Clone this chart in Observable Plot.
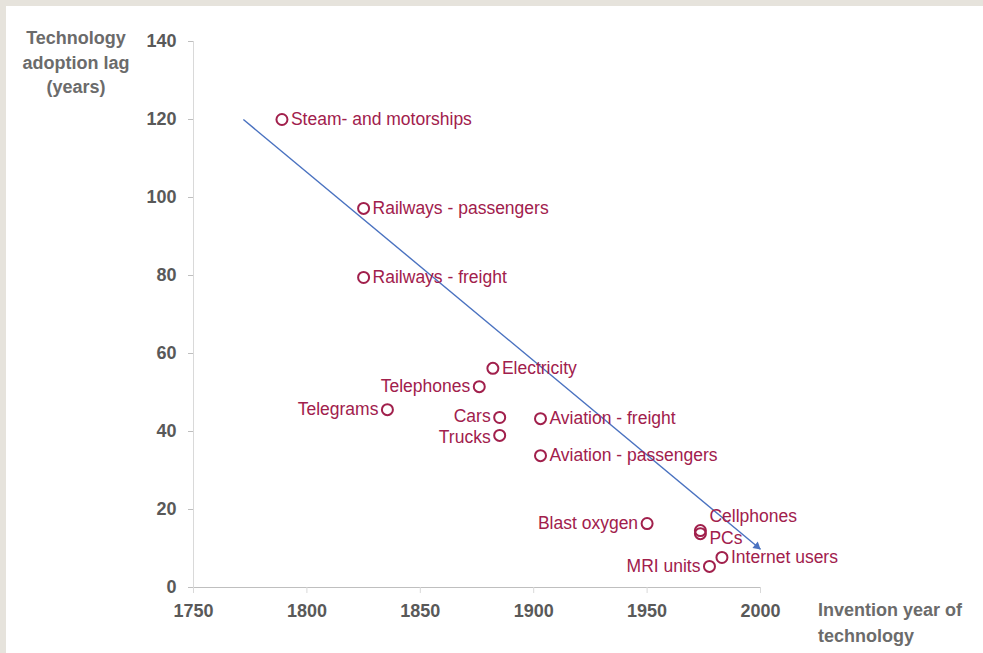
<!DOCTYPE html>
<html>
<head>
<meta charset="utf-8">
<script src="https://cdn.jsdelivr.net/npm/d3@7"></script>
<script src="https://cdn.jsdelivr.net/npm/@observablehq/plot@0.6"></script>
<style>
  html, body { margin: 0; padding: 0; background: #e6e3dc; }
  #wrap { position: relative; width: 983px; height: 653px; overflow: hidden; }
  #panel { position: absolute; left: 6px; top: 6px; width: 977px; height: 647px; background: #fff; }
  .title { position: absolute; font-family: "Liberation Sans", Arial, sans-serif; font-weight: bold; font-size: 18px; color: #6b6b6b; line-height: 24.5px; }
  svg { font-family: "Liberation Sans", Arial, sans-serif; }
</style>
</head>
<body>
<div id="wrap">
  <div id="panel"></div>
  <div class="title" style="left:11px; top:26px; width:130px; text-align:center;">Technology<br>adoption lag<br>(years)</div>
  <div class="title" style="left:818px; top:598px; line-height:25.5px;">Invention year of<br>technology</div>
</div>
<script>
// ---- data ----
const techs = ["Steam- and motorships", "Railways - passengers", "Railways - freight", "Electricity",
  "Telephones", "Telegrams", "Cars", "Trucks", "Aviation - freight", "Aviation - passengers",
  "Blast oxygen", "Cellphones", "PCs", "Internet users", "MRI units"];
const years = [1789, 1825, 1825, 1882, 1876, 1835.5, 1885, 1885, 1903, 1903, 1950, 1973.5, 1973.5, 1983, 1977.5];
const lags  = [120, 97.2, 79.5, 56.2, 51.5, 45.6, 43.6, 39, 43.3, 33.8, 16.4, 14.6, 13.8, 7.7, 5.4];
const trendYears = [1772, 2000];
const trendLags = [120, 9.8];
const xTicks = [1750, 1800, 1850, 1900, 1950, 2000];
const yTicks = [0, 20, 40, 60, 80, 100, 120, 140];

// ---- layout (label placement) ----
const leftLabeled = new Set(["Telegrams", "Telephones", "Cars", "Trucks", "Blast oxygen", "MRI units"]);
const labelDy = {"Cellphones": -14, "PCs": 5, "Cars": -1, "Trucks": 1.5};

const rows = techs.map((t, i) => ({tech: t, year: years[i], lag: lags[i]}));
const trend = [{x1: trendYears[0], y1: trendLags[0], x2: trendYears[1], y2: trendLags[1]}];
const tip = [{x: trendYears[1], y: trendLags[1]}];

const red = "#a1204c";
const grey = "#595959";
const blue = "#4a72c0";
const labelSize = 17.5;

const dims = {
  width: 977, height: 647,
  marginLeft: 187, marginRight: 223, marginTop: 35, marginBottom: 66,
  x: {domain: [1750, 2000]},
  y: {domain: [0, 140]}
};

// first pass: read the scales to orient the arrowhead along the trend line
const base = Plot.plot({...dims, marks: [Plot.ruleY([0])]});
const sx = base.scale("x"), sy = base.scale("y");
const ang = Math.atan2(sy.apply(trendLags[1]) - sy.apply(trendLags[0]), sx.apply(trendYears[1]) - sx.apply(trendYears[0]));
const back = 4.6;

const labelMarks = rows.map(d => {
  const left = leftLabeled.has(d.tech);
  return Plot.text([d], {x: "year", y: "lag", text: "tech",
    textAnchor: left ? "end" : "start", dx: left ? -9 : 9, dy: labelDy[d.tech] || 0,
    fill: red, fontSize: labelSize});
});

const chart = Plot.plot({
  ...dims,
  style: {background: "transparent", fontFamily: "'Liberation Sans', Arial, sans-serif"},
  marks: [
    Plot.ruleX([1750], {y1: 0, y2: 140, stroke: "#d9d9d9", strokeWidth: 1}),
    Plot.ruleY([0], {stroke: "#bfbfbf", strokeWidth: 1}),
    Plot.axisY({ticks: yTicks, tickSize: 5, tickPadding: 12, stroke: "#bfbfbf", fill: grey, fontSize: 18, fontWeight: "bold", label: null}),
    Plot.axisX({ticks: xTicks, tickSize: 6, tickPadding: 11, tickFormat: d => String(d), stroke: "#d9d9d9", fill: grey, fontSize: 18, fontWeight: "bold", label: null}),
    Plot.link(trend, {x1: "x1", y1: "y1", x2: "x2", y2: "y2", stroke: blue, strokeWidth: 1.4, insetEnd: 3}),
    Plot.dot(tip, {x: "x", y: "y", symbol: "triangle", r: 3.1, fill: blue, stroke: "none",
      rotate: ang * 180 / Math.PI + 90, dx: -back * Math.cos(ang), dy: -back * Math.sin(ang)}),
    Plot.dot(rows, {x: "year", y: "lag", r: 5.5, stroke: red, strokeWidth: 2, fill: "none"}),
    ...labelMarks
  ]
});
document.getElementById("panel").appendChild(chart);
</script>
</body>
</html>
